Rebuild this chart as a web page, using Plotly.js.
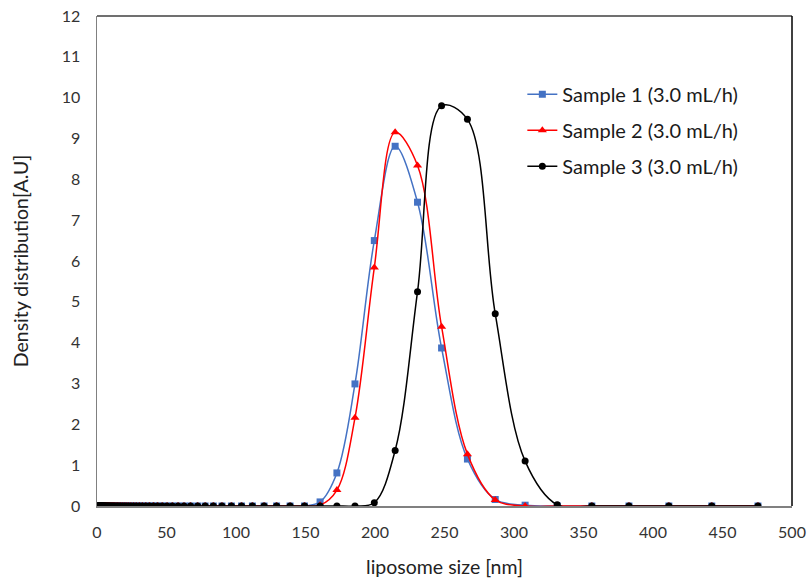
<!DOCTYPE html>
<html>
<head>
<meta charset="utf-8">
<script src="https://cdn.plot.ly/plotly-3.0.1.min.js"></script>
<style>html,body{margin:0;padding:0;background:#fff;}#chart{width:809px;height:584px;}</style>
</head>
<body>
<div id="chart"></div>
<script>
// liposome size bins [nm]
var sizeNm = [
  1.0, 1.1, 1.2, 1.3, 1.4, 1.5, 1.6, 1.7, 1.8, 1.9,
  2.1, 2.2, 2.4, 2.6, 2.8, 3.0, 3.2, 3.5, 3.7, 4.0,
  4.3, 4.6, 5.0, 5.3, 5.7, 6.2, 6.6, 7.1, 7.7, 8.2,
  8.8, 9.5, 10.2, 11.0, 11.8, 12.7, 13.7, 14.7, 15.8, 17.0,
  18.3, 19.7, 21.1, 22.7, 24.4, 26.3, 28.2, 30.4, 32.6, 35.1,
  37.7, 40.6, 43.6, 46.9, 50.4, 54.2, 58.3, 62.6, 67.3, 72.4,
  77.8, 83.7, 89.9, 96.7, 104.0, 111.8, 120.2, 129.2, 138.9, 149.3,
  160.5, 172.6, 185.6, 199.5, 214.5, 230.6, 247.9, 266.5, 286.5, 308.0,
  331.1, 356.0, 382.7, 411.4, 442.3, 475.5
];
var sample1 = [
  0, 0, 0, 0, 0, 0, 0, 0, 0, 0,
  0, 0, 0, 0, 0, 0, 0, 0, 0, 0,
  0, 0, 0, 0, 0, 0, 0, 0, 0, 0,
  0, 0, 0, 0, 0, 0, 0, 0, 0, 0,
  0, 0, 0, 0, 0, 0, 0, 0, 0, 0,
  0, 0, 0, 0, 0, 0, 0, 0, 0, 0,
  0, 0, 0, 0, 0, 0, 0, 0, 0, 0,
  0.10, 0.81, 2.99, 6.50, 8.81, 7.44, 3.87, 1.15, 0.16, 0.02,
  0, 0, 0, 0, 0, 0
];
var sample2 = [
  0, 0, 0, 0, 0, 0, 0, 0, 0, 0,
  0, 0, 0, 0, 0, 0, 0, 0, 0, 0,
  0, 0, 0, 0, 0, 0, 0, 0, 0, 0,
  0, 0, 0, 0, 0, 0, 0, 0, 0, 0,
  0, 0, 0, 0, 0, 0, 0, 0, 0, 0,
  0, 0, 0, 0, 0, 0, 0, 0, 0, 0,
  0, 0, 0, 0, 0, 0, 0, 0, 0, 0,
  0.02, 0.39, 2.16, 5.84, 9.15, 8.34, 4.39, 1.27, 0.15, 0,
  0, 0, 0, 0, 0, 0
];
var sample3 = [
  0, 0, 0, 0, 0, 0, 0, 0, 0, 0,
  0, 0, 0, 0, 0, 0, 0, 0, 0, 0,
  0, 0, 0, 0, 0, 0, 0, 0, 0, 0,
  0, 0, 0, 0, 0, 0, 0, 0, 0, 0,
  0, 0, 0, 0, 0, 0, 0, 0, 0, 0,
  0, 0, 0, 0, 0, 0, 0, 0, 0, 0,
  0, 0, 0, 0, 0, 0, 0, 0, 0, 0,
  0, 0, 0, 0.08, 1.36, 5.25, 9.80, 9.47, 4.71, 1.10,
  0.03, 0, 0, 0, 0, 0
];
var seriesNames = ["Sample 1 (3.0 mL/h)", "Sample 2 (3.0 mL/h)", "Sample 3 (3.0 mL/h)"];

var FONT = "Lato, Carlito, Calibri, 'Open Sans', sans-serif";

var traces = [
  {x: sizeNm, y: sample1, name: seriesNames[0], mode: "lines+markers", legendgroup: "a",
   line: {color: "#4472C4", width: 1.5, shape: "spline", smoothing: 1},
   marker: {symbol: "square", size: 7, color: "#4472C4"}},
  {x: sizeNm, y: sample2, name: seriesNames[1], mode: "lines+markers", legendgroup: "b",
   line: {color: "#FF0000", width: 1.5, shape: "spline", smoothing: 1},
   marker: {symbol: "triangle-up", size: 8, color: "#FF0000"}},
  {x: sizeNm, y: sample3, name: seriesNames[2], mode: "lines+markers", legendgroup: "c",
   line: {color: "#000000", width: 1.5, shape: "spline", smoothing: 1},
   marker: {symbol: "circle", size: 7, color: "#000000"}}
];

var layout = {
  width: 809, height: 584,
  margin: {l: 97, r: 17, t: 16, b: 78},
  paper_bgcolor: "#ffffff", plot_bgcolor: "#ffffff",
  font: {family: FONT, color: "#333333"},
  showlegend: true,
  legend: {x: 0.612, y: 0.88, xanchor: "left", yanchor: "top",
           font: {family: FONT, size: 20, color: "#1a1a1a"},
           traceorder: "grouped", tracegroupgap: 7, bgcolor: "rgba(0,0,0,0)"},
  xaxis: {range: [0, 500], dtick: 50, tick0: 0, showgrid: false, zeroline: false,
          showline: true, linecolor: "#808080", linewidth: 1.5, ticks: "",
          ticklabelstandoff: 11,
          tickfont: {family: FONT, size: 16, color: "#333333"},
          title: {text: "liposome size [nm]", font: {family: FONT, size: 19.5, color: "#222222"}, standoff: 20}},
  yaxis: {range: [0, 12], dtick: 1, tick0: 0, showgrid: false, zeroline: false,
          showline: true, linecolor: "#808080", linewidth: 1.5, ticks: "",
          ticklabelstandoff: 12,
          tickfont: {family: FONT, size: 16, color: "#333333"},
          title: {text: "Density distribution[A.U]", font: {family: FONT, size: 19.5, color: "#222222"}, standoff: 28}},
  shapes: [
    {type: "line", xref: "paper", yref: "paper", x0: 0, x1: 1, y0: 1, y1: 1,
     line: {color: "#404040", width: 1.5}},
    {type: "line", xref: "paper", yref: "paper", x0: 1, x1: 1, y0: 0, y1: 1,
     line: {color: "#000000", width: 1.5}}
  ]
};

Plotly.newPlot("chart", traces, layout, {displayModeBar: false, staticPlot: true});
</script>
</body>
</html>
